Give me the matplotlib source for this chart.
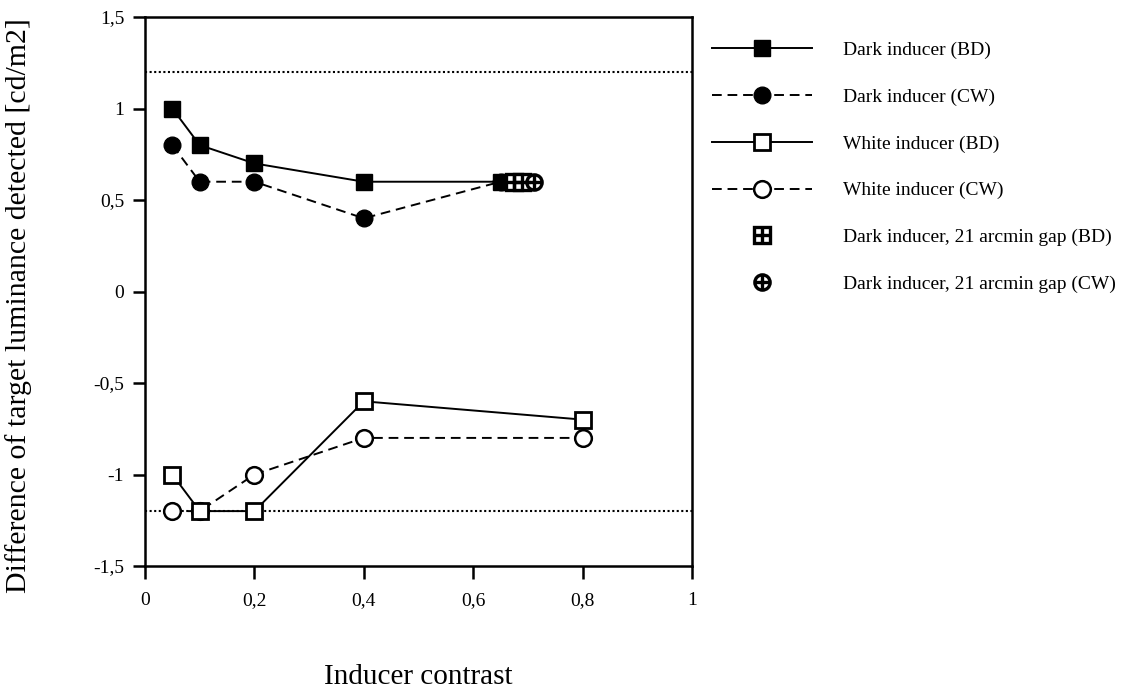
import matplotlib.pyplot as plt
from matplotlib.legend_handler import HandlerTuple

plt.rcParams["font.family"] = ["Liberation Serif", "DejaVu Serif"]

# data
dark_bd_x = [0.05, 0.1, 0.2, 0.4, 0.65]
dark_bd_y = [1.0, 0.8, 0.7, 0.6, 0.6]
dark_cw_x = [0.05, 0.1, 0.2, 0.4, 0.65]
dark_cw_y = [0.8, 0.6, 0.6, 0.4, 0.6]
white_bd_x = [0.05, 0.1, 0.2, 0.4, 0.8]
white_bd_y = [-1.0, -1.2, -1.2, -0.6, -0.7]
white_cw_x = [0.05, 0.1, 0.2, 0.4, 0.8]
white_cw_y = [-1.2, -1.2, -1.0, -0.8, -0.8]
gap_bd_x = [0.675, 0.69]
gap_bd_y = [0.6, 0.6]
gap_cw_x = [0.712]
gap_cw_y = [0.6]
ref_levels = [1.2, -1.2]

x_ticks = [0, 0.2, 0.4, 0.6, 0.8, 1]
x_labels = ["0", "0,2", "0,4", "0,6", "0,8", "1"]
y_ticks = [-1.5, -1, -0.5, 0, 0.5, 1, 1.5]
y_labels = ["-1,5", "-1", "-0,5", "0", "0,5", "1", "1,5"]

fig = plt.figure(figsize=(11.25, 6.98), dpi=100)
ax = fig.add_axes([0.1289, 0.1891, 0.4862, 0.7865])

for lvl in ref_levels:
    ax.axhline(lvl, color="black", linestyle=(0, (1, 1.2)), linewidth=1.5, zorder=1)

ms = 12
lw = 1.4
h1, = ax.plot(dark_bd_x, dark_bd_y, color="black", linewidth=lw, marker="s",
              markersize=ms, markerfacecolor="black", zorder=3)
h2, = ax.plot(dark_cw_x, dark_cw_y, color="black", linewidth=lw, linestyle=(0, (5, 3)),
              marker="o", markersize=ms, markerfacecolor="black", zorder=3)
h3, = ax.plot(white_bd_x, white_bd_y, color="black", linewidth=lw, marker="s",
              markersize=ms, markerfacecolor="white", markeredgewidth=2, zorder=3)
h4, = ax.plot(white_cw_x, white_cw_y, color="black", linewidth=lw, linestyle=(0, (5, 3)),
              marker="o", markersize=ms, markerfacecolor="white", markeredgewidth=1.8, zorder=2)

g1a, = ax.plot(gap_bd_x, gap_bd_y, linestyle="none", marker="s", markersize=ms - 1,
               markerfacecolor="white", markeredgecolor="black", markeredgewidth=2.4, zorder=4)
g1b, = ax.plot(gap_bd_x, gap_bd_y, linestyle="none", marker="+", markersize=ms - 1,
               color="black", markeredgewidth=2.4, zorder=5)
g2a, = ax.plot(gap_cw_x, gap_cw_y, linestyle="none", marker="o", markersize=ms - 1,
               markerfacecolor="white", markeredgecolor="black", markeredgewidth=2.4, zorder=4)
g2b, = ax.plot(gap_cw_x, gap_cw_y, linestyle="none", marker="+", markersize=ms - 1,
               color="black", markeredgewidth=2.4, zorder=5)

ax.set_xlim(0, 1)
ax.set_ylim(-1.5, 1.5)
ax.set_xticks(x_ticks)
ax.set_xticklabels(x_labels)
ax.set_yticks(y_ticks)
ax.set_yticklabels(y_labels)
ax.tick_params(direction="out", length=9, width=1.8, labelsize=14)
ax.tick_params(axis="x", pad=10)
ax.tick_params(axis="y", pad=6)
for spine in ax.spines.values():
    spine.set_linewidth(1.8)

ax.set_ylabel("Difference of target luminance detected [cd/m2]", fontsize=21.5)
ax.yaxis.set_label_coords(-0.207, 0.475)
fig.text(0.372, 0.012, "Inducer contrast", fontsize=21, ha="center", va="bottom")

handles = [h1, h2, h3, h4, (g1a, g1b), (g2a, g2b)]
labels = [
    "Dark inducer (BD)",
    "Dark inducer (CW)",
    "White inducer (BD)",
    "White inducer (CW)",
    "Dark inducer, 21 arcmin gap (BD)",
    "Dark inducer, 21 arcmin gap (CW)",
]
ax.legend(handles, labels, loc="upper left", bbox_to_anchor=(1.022, 0.97),
          frameon=False, fontsize=14, handlelength=5.15, handletextpad=1.6,
          labelspacing=1.5, borderaxespad=0,
          handler_map={tuple: HandlerTuple(ndivide=1)})

fig.savefig("out.png", dpi=100)
